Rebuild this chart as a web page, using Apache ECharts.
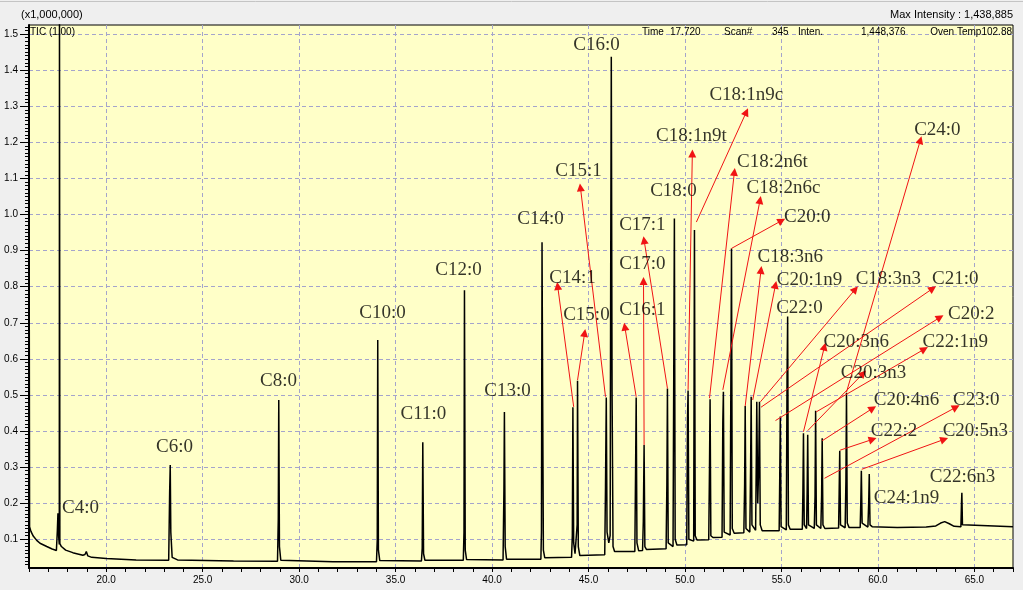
<!DOCTYPE html>
<html>
<head>
<meta charset="utf-8">
<title>TIC chromatogram</title>
<script src="https://cdn.jsdelivr.net/npm/echarts@6/dist/echarts.min.js"></script>
<style>
  html, body { margin: 0; padding: 0; background: #efefef; }
  #chart { width: 1023px; height: 590px; }
</style>
</head>
<body>
<div id="chart"></div>
<script>
// TIC trace: [retention time (min), intensity (x1,000,000)]
const ticPoints = [
  [16.00, 1.22], [16.03, 0.135], [16.10, 0.122], [16.22, 0.109], [16.40, 0.097],
  [16.57, 0.089], [16.92, 0.080], [17.20, 0.073], [17.42, 0.069], [17.47, 0.125],
  [17.50, 0.172], [17.54, 0.105], [17.57, 0.086], [17.58, 1.60], [17.60, 0.088],
  [17.68, 0.080], [17.90, 0.070], [18.27, 0.063], [18.79, 0.056], [18.90, 0.058],
  [18.97, 0.066], [19.05, 0.054], [19.25, 0.050], [20.00, 0.047], [21.55, 0.043],
  [23.24, 0.042], [23.29, 0.232], [23.32, 0.306], [23.35, 0.120], [23.42, 0.050],
  [23.70, 0.043], [26.60, 0.040], [28.88, 0.039], [28.92, 0.155], [28.945, 0.486],
  [28.98, 0.080], [29.05, 0.042], [31.75, 0.038], [34.01, 0.038], [34.05, 0.098],
  [34.075, 0.652], [34.11, 0.070], [34.18, 0.041], [36.34, 0.040], [36.38, 0.076],
  [36.41, 0.369], [36.45, 0.060], [36.52, 0.042], [38.51, 0.042], [38.545, 0.120],
  [38.57, 0.790], [38.61, 0.070], [38.68, 0.044], [40.57, 0.043], [40.615, 0.237],
  [40.64, 0.453], [40.68, 0.080], [40.75, 0.045], [42.53, 0.045], [42.56, 0.120],
  [42.59, 0.923], [42.62, 0.523], [42.66, 0.070], [42.73, 0.049], [44.12, 0.050],
  [44.16, 0.110], [44.19, 0.466], [44.23, 0.090], [44.30, 0.060], [44.38, 0.065],
  [44.41, 0.140], [44.43, 0.539], [44.47, 0.080], [44.55, 0.055], [45.84, 0.057],
  [45.88, 0.246], [45.92, 0.493], [45.96, 0.120], [46.05, 0.090], [46.12, 0.110],
  [46.15, 0.865], [46.18, 1.437], [46.22, 0.510], [46.27, 0.080], [46.35, 0.066],
  [47.40, 0.066], [47.44, 0.300], [47.47, 0.493], [47.51, 0.090], [47.60, 0.068],
  [47.80, 0.069], [47.84, 0.150], [47.88, 0.361], [47.92, 0.080], [48.00, 0.072],
  [49.02, 0.074], [49.06, 0.250], [49.09, 0.518], [49.13, 0.090], [49.38, 0.080],
  [49.45, 0.989], [49.49, 0.100], [49.58, 0.084], [50.09, 0.085], [50.13, 0.436],
  [50.16, 0.512], [50.20, 0.100], [50.45, 0.095], [50.49, 0.957], [50.53, 0.110],
  [50.62, 0.098], [51.23, 0.099], [51.27, 0.300], [51.30, 0.488], [51.34, 0.110],
  [51.45, 0.105], [51.92, 0.106], [51.96, 0.426], [51.99, 0.509], [52.03, 0.120],
  [52.34, 0.112], [52.38, 0.562], [52.41, 0.906], [52.45, 0.130], [52.55, 0.117],
  [53.05, 0.118], [53.09, 0.250], [53.12, 0.469], [53.16, 0.130], [53.36, 0.120],
  [53.40, 0.300], [53.43, 0.495], [53.47, 0.140], [53.66, 0.125], [53.70, 0.350],
  [53.72, 0.481], [53.77, 0.200], [53.82, 0.300], [53.86, 0.481], [53.90, 0.140],
  [54.00, 0.124], [54.88, 0.124], [54.91, 0.270], [54.94, 0.440], [54.98, 0.135],
  [55.25, 0.126], [55.29, 0.555], [55.32, 0.717], [55.36, 0.140], [55.45, 0.128],
  [56.08, 0.128], [56.11, 0.230], [56.14, 0.394], [56.18, 0.140], [56.30, 0.130],
  [56.33, 0.230], [56.36, 0.390], [56.40, 0.140], [56.70, 0.130], [56.74, 0.220],
  [56.77, 0.456], [56.81, 0.140], [57.04, 0.130], [57.08, 0.220], [57.11, 0.380],
  [57.15, 0.140], [57.25, 0.130], [57.96, 0.131], [57.99, 0.230], [58.02, 0.345],
  [58.06, 0.140], [58.30, 0.132], [58.34, 0.260], [58.37, 0.506], [58.41, 0.145],
  [58.50, 0.133], [59.08, 0.133], [59.11, 0.200], [59.14, 0.290], [59.18, 0.145],
  [59.48, 0.134], [59.52, 0.200], [59.55, 0.281], [59.59, 0.140], [59.70, 0.135],
  [61.00, 0.133], [62.50, 0.134], [63.00, 0.137], [63.25, 0.145], [63.46, 0.149],
  [63.70, 0.143], [63.95, 0.136], [64.30, 0.135], [64.33, 0.200], [64.35, 0.229],
  [64.38, 0.140], [64.45, 0.135], [67.00, 0.135]
]

// tick labels
const xTickLabels = [20, 25, 30, 35, 40, 45, 50, 55, 60, 65]
const yTickLabels = [0.1, 0.2, 0.3, 0.4, 0.5, 0.6, 0.7, 0.8, 0.9, 1.0, 1.1, 1.2, 1.3, 1.4, 1.5]

// peak names and where their labels sit (time, intensity)
const peakNames = [
  'C4:0', 'C6:0', 'C8:0', 'C10:0', 'C11:0', 'C12:0', 'C13:0', 'C14:0', 'C14:1', 'C15:0',
  'C15:1', 'C16:0', 'C16:1', 'C17:0', 'C17:1', 'C18:0', 'C18:1n9t', 'C18:1n9c', 'C18:2n6t',
  'C18:2n6c', 'C20:0', 'C18:3n6', 'C20:1n9', 'C22:0', 'C18:3n3', 'C21:0', 'C20:2', 'C20:3n6',
  'C22:1n9', 'C20:3n3', 'C20:4n6', 'C23:0', 'C22:2', 'C20:5n3', 'C22:6n3', 'C24:1n9', 'C24:0'
]
const labelAnchors = [
  [18.67, 0.187], [23.54, 0.356], [28.93, 0.539], [34.32, 0.727], [36.44, 0.447],
  [38.26, 0.846], [40.80, 0.511], [42.51, 0.987], [44.17, 0.824], [44.89, 0.721],
  [44.48, 1.120], [45.41, 1.469], [47.79, 0.735], [47.79, 0.863], [47.79, 0.971],
  [49.40, 1.065], [50.33, 1.217], [53.18, 1.331], [54.53, 1.145], [55.10, 1.073],
  [56.34, 0.993], [55.46, 0.882], [56.45, 0.818], [55.93, 0.742], [60.54, 0.821],
  [64.01, 0.821], [64.84, 0.724], [58.88, 0.647], [64.01, 0.647], [59.77, 0.562],
  [61.48, 0.486], [65.10, 0.486], [60.83, 0.400], [65.05, 0.400], [64.38, 0.273],
  [61.48, 0.214], [63.08, 1.234]
]

// arrows from peak to label: [from, to]
const arrowList = [
  [[44.23, 0.467], [43.40, 0.802]],
  [[44.43, 0.541], [44.80, 0.672]],
  [[45.88, 0.495], [44.58, 1.075]],
  [[47.47, 0.495], [46.88, 0.689]],
  [[47.88, 0.361], [47.85, 0.816]],
  [[49.09, 0.518], [47.88, 0.929]],
  [[50.16, 0.514], [50.38, 1.169]],
  [[50.59, 0.979], [53.18, 1.284]],
  [[51.27, 0.491], [52.56, 1.118]],
  [[51.96, 0.514], [53.89, 1.040]],
  [[52.41, 0.906], [55.01, 0.983]],
  [[53.12, 0.469], [53.94, 0.846]],
  [[53.51, 0.486], [54.69, 0.805]],
  [[53.91, 0.481], [58.83, 0.793]],
  [[53.94, 0.466], [62.84, 0.795]],
  [[54.69, 0.429], [63.22, 0.715]],
  [[56.14, 0.398], [57.23, 0.634]],
  [[56.36, 0.401], [59.24, 0.560]],
  [[56.80, 0.453], [62.41, 0.627]],
  [[57.11, 0.373], [59.73, 0.463]],
  [[57.23, 0.269], [64.05, 0.466]],
  [[58.04, 0.347], [59.73, 0.377]],
  [[59.16, 0.294], [63.44, 0.377]],
  [[58.37, 0.508], [62.20, 1.206]]
]

const xMin = 16, xMax = 67
const yMin = 0.0205, yMax = 1.525

// minor ticks: every minute / every 0.01
const xMinorTicks = []
for (let t = 16; t <= 67; t++) xMinorTicks.push(t)
const yMinorTicks = []
for (let i = 3; i <= 152; i++) yMinorTicks.push(i / 100)

const chart = echarts.init(document.getElementById('chart'))

const axisFont = { color: '#000', fontSize: 10, fontFamily: 'Liberation Sans' }
const gridDash = { color: '#a4a4cc', width: 1, type: [4, 3] }

// small header text helper
const headText = (text, x, y, align, size) => ({
  type: 'text', x: x, y: y, z: 10,
  style: { text: text, font: size + 'px Liberation Sans', fill: '#000', align: align, verticalAlign: 'middle' }
})

chart.setOption({
  animation: false,
  backgroundColor: '#efefef',
  grid: {
    left: 29, right: 10, top: 25, bottom: 22,
    show: true,
    backgroundColor: '#ffffc8',
    borderColor: '#000',
    borderWidth: 1,
    outerBoundsMode: 'none'
  },
  xAxis: [
    {
      type: 'value', min: xMin, max: xMax, position: 'bottom',
      axisLine: { show: true, lineStyle: { color: '#000', width: 2 } },
      axisTick: { show: true, customValues: xMinorTicks, length: 4, lineStyle: { color: '#000' } },
      axisLabel: {
        ...axisFont, customValues: xTickLabels, margin: 7,
        formatter: v => v.toFixed(1)
      },
      splitLine: { show: false }
    },
    {
      type: 'value', min: xMin, max: xMax, position: 'bottom',
      axisLine: { show: false },
      axisTick: { show: false, customValues: xTickLabels },
      axisLabel: { show: false },
      splitLine: { show: true, lineStyle: gridDash }
    }
  ],
  yAxis: [
    {
      type: 'value', min: yMin, max: yMax, position: 'left',
      axisLine: { show: true, lineStyle: { color: '#000', width: 2 } },
      axisTick: { show: true, customValues: yMinorTicks, length: 4, lineStyle: { color: '#000' } },
      axisLabel: {
        ...axisFont, customValues: yTickLabels, margin: 11,
        formatter: v => v.toFixed(1)
      },
      splitLine: { show: false }
    },
    {
      type: 'value', min: yMin, max: yMax, position: 'left',
      axisLine: { show: false },
      axisTick: { show: true, customValues: yTickLabels, length: 9, lineStyle: { color: '#000' } },
      axisLabel: { show: false },
      splitLine: { show: true, lineStyle: gridDash }
    }
  ],
  series: [
    {
      name: 'TIC',
      type: 'line',
      data: ticPoints,
      showSymbol: false,
      clip: true,
      lineStyle: { color: '#000', width: 1.5 },
      z: 3
    },
    {
      name: 'arrows',
      type: 'lines',
      coordinateSystem: 'cartesian2d',
      symbol: ['none', 'triangle'],
      symbolSize: [1, 8],
      lineStyle: { color: '#f01414', width: 1, opacity: 1, curveness: 0 },
      itemStyle: { color: '#f01414' },
      data: arrowList.map(a => ({ coords: [a[0], a[1]] })),
      z: 4,
      silent: true
    },
    {
      name: 'labels',
      type: 'scatter',
      symbolSize: 1,
      itemStyle: { color: 'rgba(0,0,0,0)' },
      data: peakNames.map((n, i) => ({ name: n, value: labelAnchors[i] })),
      label: {
        show: true, position: 'inside', formatter: '{b}',
        color: '#000', fontFamily: 'Liberation Serif', fontSize: 19
      },
      z: 5,
      silent: true
    }
  ],
  graphic: [
    { type: 'line', shape: { x1: 0, y1: 1.5, x2: 1023, y2: 1.5 }, style: { stroke: '#c4c4c4', lineWidth: 1 } },
    headText('(x1,000,000)', 21, 15, 'left', 11),
    headText('Max Intensity : 1,438,885', 1013, 15, 'right', 11),
    headText('TIC (1.00)', 30, 32, 'left', 10),
    headText('Time', 642, 32, 'left', 10),
    headText('17.720', 670, 32, 'left', 10),
    headText('Scan#', 724, 32, 'left', 10),
    headText('345', 772, 32, 'left', 10),
    headText('Inten.', 798, 32, 'left', 10),
    headText('1,448,376', 861, 32, 'left', 10),
    headText('Oven Temp102.88', 1012, 32, 'right', 10)
  ]
})
</script>
</body>
</html>
